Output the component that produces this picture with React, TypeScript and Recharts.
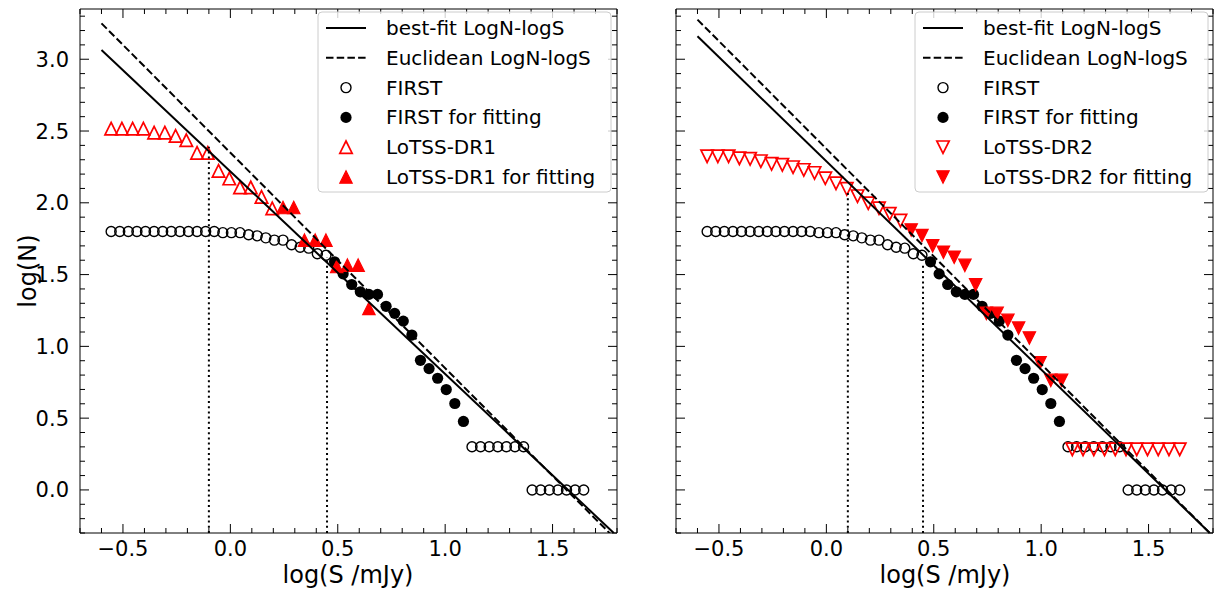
import React from 'react';
import { ComposedChart, Scatter, XAxis, YAxis } from 'recharts';

// ---------- axis ticks ----------
const xTicks = [-0.7, -0.6, -0.5, -0.4, -0.3, -0.2, -0.1, 0, 0.1, 0.2, 0.3, 0.4, 0.5, 0.6, 0.7, 0.8, 0.9, 1, 1.1, 1.2, 1.3, 1.4, 1.5, 1.6, 1.7, 1.8];
const yTicks = [-0.3, -0.2, -0.1, 0, 0.1, 0.2, 0.3, 0.4, 0.5, 0.6, 0.7, 0.8, 0.9, 1, 1.1, 1.2, 1.3, 1.4, 1.5, 1.6, 1.7, 1.8, 1.9, 2, 2.1, 2.2, 2.3, 2.4, 2.5, 2.6, 2.7, 2.8, 2.9, 3, 3.1, 3.2, 3.3];
const xDomain = [-0.7, 1.8];
const yDomain = [-0.3, 3.35];

// ---------- FIRST (same in both panels) ----------
const firstOpenX = [-0.555, -0.515, -0.475, -0.435, -0.395, -0.355, -0.315, -0.275, -0.235, -0.195, -0.155, -0.115, -0.075, -0.035, 0.005, 0.045, 0.085, 0.125, 0.165, 0.205, 0.245, 0.285, 0.325, 0.365, 0.405, 0.445, 1.125, 1.165, 1.205, 1.245, 1.285, 1.325, 1.365, 1.405, 1.445, 1.485, 1.525, 1.565, 1.605, 1.645];
const firstOpenY = [1.8, 1.8, 1.8, 1.8, 1.8, 1.8, 1.8, 1.8, 1.8, 1.8, 1.8, 1.8, 1.8, 1.792, 1.792, 1.792, 1.778, 1.77, 1.756, 1.74, 1.74, 1.708, 1.69, 1.684, 1.645, 1.635, 0.301, 0.301, 0.301, 0.301, 0.301, 0.301, 0.301, 0, 0, 0, 0, 0, 0, 0];
const firstFitX = [0.485, 0.525, 0.565, 0.605, 0.645, 0.685, 0.725, 0.765, 0.805, 0.845, 0.885, 0.925, 0.965, 1.005, 1.045, 1.085];
const firstFitY = [1.589, 1.505, 1.431, 1.38, 1.362, 1.362, 1.279, 1.23, 1.176, 1.079, 0.903, 0.845, 0.778, 0.699, 0.602, 0.477];

// ---------- LoTSS-DR1 (left panel) ----------
const dr1OpenX = [-0.555, -0.505, -0.455, -0.405, -0.355, -0.305, -0.255, -0.205, -0.155, -0.105, -0.055, -0.005, 0.045, 0.095, 0.145, 0.195];
const dr1OpenY = [2.517, 2.517, 2.517, 2.517, 2.489, 2.489, 2.466, 2.436, 2.348, 2.348, 2.222, 2.169, 2.107, 2.107, 2.041, 1.961];
const dr1FitX = [0.245, 0.295, 0.345, 0.395, 0.445, 0.495, 0.545, 0.595, 0.645];
const dr1FitY = [1.967, 1.967, 1.74, 1.74, 1.74, 1.556, 1.566, 1.566, 1.264];

// ---------- LoTSS-DR2 (right panel) ----------
const dr2OpenX = [-0.555, -0.505, -0.455, -0.405, -0.355, -0.305, -0.255, -0.205, -0.155, -0.105, -0.055, -0.005, 0.045, 0.095, 0.145, 0.195, 0.245, 0.295, 0.345, 1.145, 1.195, 1.245, 1.295, 1.345, 1.395, 1.445, 1.495, 1.545, 1.595, 1.645];
const dr2OpenY = [2.324, 2.324, 2.324, 2.31, 2.306, 2.29, 2.271, 2.264, 2.248, 2.229, 2.208, 2.171, 2.136, 2.097, 2.046, 1.997, 1.962, 1.923, 1.876, 0.283, 0.283, 0.283, 0.283, 0.283, 0.283, 0.283, 0.283, 0.283, 0.283, 0.283];
const dr2FitX = [0.395, 0.445, 0.495, 0.545, 0.595, 0.645, 0.695, 0.745, 0.795, 0.845, 0.895, 0.945, 0.995, 1.045, 1.095];
const dr2FitY = [1.811, 1.772, 1.7, 1.656, 1.621, 1.564, 1.429, 1.23, 1.23, 1.181, 1.127, 1.058, 0.886, 0.763, 0.763];

// ---------- model lines ----------
const lineX = [-0.6, 1.785];
const bestFit1Y = [3.065, -0.3];
const eucl1Y = [3.25, -0.33];
const bestFit2Y = [3.16, -0.3];
const eucl2Y = [3.276, -0.3];

// ---------- dotted fitting limits ----------
const dotted1X = [-0.1, 0.45];
const dotted1Top = [2.39, 1.62];
const dotted2X = [0.1, 0.45];
const dotted2Top = [2.07, 1.58];

// ---------- legend labels ----------
const legend1 = ['best-fit LogN-logS', 'Euclidean LogN-logS', 'FIRST', 'FIRST for fitting', 'LoTSS-DR1', 'LoTSS-DR1 for fitting'];
const legend2 = ['best-fit LogN-logS', 'Euclidean LogN-logS', 'FIRST', 'FIRST for fitting', 'LoTSS-DR2', 'LoTSS-DR2 for fitting'];

const FONT = 'DejaVu Sans, Verdana, sans-serif';
const RED = '#ff0000';
const DASH = '7.5 3.2';
const DOT = '2 3.2';

const pts = (xs: number[], ys: number[]) => xs.map((x, i) => ({ x, y: ys[i] }));

const isMajor = (v: number) => Math.abs(v * 2 - Math.round(v * 2)) < 1e-6;
const fmt = (v: number) => {
  const s = (Math.abs(v) < 1e-9 ? 0 : v).toFixed(1);
  return s.startsWith('-') ? '\u2212' + s.slice(1) : s;
};
const MAJ = 9;
const MIN = 5;

const BottomTick = (p: any) => {
  const v = p.payload.value;
  const m = isMajor(v);
  return (
    <g>
      <line x1={p.x} x2={p.x} y1={p.y} y2={p.y - (m ? MAJ : MIN)} stroke="#000" strokeWidth={1} />
      {m && (
        <text x={p.x} y={p.y + 23} textAnchor="middle" fontSize={21} fontFamily={FONT} fill="#000">
          {fmt(v)}
        </text>
      )}
    </g>
  );
};
const TopTick = (p: any) => {
  const v = p.payload.value;
  const m = isMajor(v);
  return <line x1={p.x} x2={p.x} y1={p.y} y2={p.y + (m ? MAJ : MIN)} stroke="#000" strokeWidth={1} />;
};
const makeLeftTick = (labels: boolean) => (p: any) => {
  const v = p.payload.value;
  const m = isMajor(v);
  return (
    <g>
      <line x1={p.x} x2={p.x + (m ? MAJ : MIN)} y1={p.y} y2={p.y} stroke="#000" strokeWidth={1} />
      {labels && m && (
        <text x={p.x - 11} y={p.y + 7.5} textAnchor="end" fontSize={21} fontFamily={FONT} fill="#000">
          {fmt(v)}
        </text>
      )}
    </g>
  );
};
const RightTick = (p: any) => {
  const v = p.payload.value;
  const m = isMajor(v);
  return <line x1={p.x} x2={p.x - (m ? MAJ : MIN)} y1={p.y} y2={p.y} stroke="#000" strokeWidth={1} />;
};

// ---------- marker shapes ----------
const Nothing = () => <g />;
const OpenCircle = (p: any) => <circle cx={p.cx} cy={p.cy} r={5} fill="none" stroke="#000" strokeWidth={1.4} />;
const FilledCircle = (p: any) => <circle cx={p.cx} cy={p.cy} r={5.6} fill="#000" />;
const TRI = 6.2;
const triPath = (cx: number, cy: number, up: boolean) =>
  up
    ? `M${cx},${cy - TRI} L${cx + TRI},${cy + TRI} L${cx - TRI},${cy + TRI} Z`
    : `M${cx},${cy + TRI} L${cx + TRI},${cy - TRI} L${cx - TRI},${cy - TRI} Z`;
const OpenTriUp = (p: any) => <path d={triPath(p.cx, p.cy, true)} fill="none" stroke={RED} strokeWidth={1.7} />;
const FilledTriUp = (p: any) => <path d={triPath(p.cx, p.cy, true)} fill={RED} stroke={RED} strokeWidth={1.2} />;
const OpenTriDown = (p: any) => <path d={triPath(p.cx, p.cy, false)} fill="none" stroke={RED} strokeWidth={1.7} />;
const FilledTriDown = (p: any) => <path d={triPath(p.cx, p.cy, false)} fill={RED} stroke={RED} strokeWidth={1.2} />;

type PanelProps = {
  left: number;
  width: number;
  yAxisWidth: number;
  rightWidth: number;
  yLabels: boolean;
  lotssOpen: { x: number; y: number }[];
  lotssFit: { x: number; y: number }[];
  up: boolean;
  best: { x: number; y: number }[];
  eucl: { x: number; y: number }[];
  dottedX: number[];
  dottedTop: number[];
};

const Panel = (props: PanelProps) => {
  const common = { xAxisId: 'b', yAxisId: 'l', isAnimationActive: false } as any;
  return (
    <div style={{ position: 'absolute', left: props.left, top: 0 }}>
      <ComposedChart width={props.width} height={593} margin={{ top: 0, right: 0, bottom: 0, left: 0 }}>
        <XAxis
          xAxisId="b"
          dataKey="x"
          type="number"
          orientation="bottom"
          domain={xDomain}
          ticks={xTicks}
          interval={0}
          allowDataOverflow
          height={60}
          tickSize={0}
          tickMargin={0}
          tickLine={false}
          axisLine={{ stroke: '#000', strokeWidth: 1 }}
          tick={BottomTick}
        />
        <XAxis
          xAxisId="t"
          dataKey="x"
          type="number"
          orientation="top"
          domain={xDomain}
          ticks={xTicks}
          interval={0}
          allowDataOverflow
          height={9}
          tickSize={0}
          tickMargin={0}
          tickLine={false}
          axisLine={{ stroke: '#000', strokeWidth: 1 }}
          tick={TopTick}
        />
        <YAxis
          yAxisId="l"
          dataKey="y"
          type="number"
          orientation="left"
          domain={yDomain}
          ticks={yTicks}
          interval={0}
          allowDataOverflow
          width={props.yAxisWidth}
          tickSize={0}
          tickMargin={0}
          tickLine={false}
          axisLine={{ stroke: '#000', strokeWidth: 1 }}
          tick={makeLeftTick(props.yLabels)}
        />
        <YAxis
          yAxisId="r"
          dataKey="y"
          type="number"
          orientation="right"
          domain={yDomain}
          ticks={yTicks}
          interval={0}
          allowDataOverflow
          width={props.rightWidth}
          tickSize={0}
          tickMargin={0}
          tickLine={false}
          axisLine={{ stroke: '#000', strokeWidth: 1 }}
          tick={RightTick}
        />
        <Scatter xAxisId="t" yAxisId="r" data={[{ x: 0, y: 0 }]} shape={Nothing} isAnimationActive={false} />
        <Scatter {...common} data={pts(firstOpenX, firstOpenY)} shape={OpenCircle} />
        <Scatter {...common} data={pts(firstFitX, firstFitY)} shape={FilledCircle} />
        <Scatter {...common} data={props.lotssOpen} shape={props.up ? OpenTriUp : OpenTriDown} />
        <Scatter {...common} data={props.lotssFit} shape={props.up ? FilledTriUp : FilledTriDown} />
        <Scatter {...common} data={props.best} shape={Nothing} line={{ stroke: '#000', strokeWidth: 2 }} />
        <Scatter {...common} data={props.eucl} shape={Nothing} line={{ stroke: '#000', strokeWidth: 2, strokeDasharray: DASH }} />
        {props.dottedX.map((dx, i) => (
          <Scatter
            key={'d' + i}
            {...common}
            data={[
              { x: dx, y: yDomain[0] },
              { x: dx, y: props.dottedTop[i] },
            ]}
            shape={Nothing}
            line={{ stroke: '#000', strokeWidth: 2, strokeDasharray: DOT }}
          />
        ))}
      </ComposedChart>
    </div>
  );
};

const LegendBox = ({ x, labels, up }: { x: number; labels: string[]; up: boolean }) => {
  const top = 12;
  const w = 293;
  const h = 180;
  const rowY = (i: number) => top + 16 + i * 29.8;
  const hx = x + 8;
  const mx = x + 28;
  const tx = x + 68;
  return (
    <g>
      <rect x={x} y={top} width={w} height={h} rx={4} ry={4} fill="#fff" fillOpacity={0.8} stroke="#cccccc" strokeWidth={1} />
      <line x1={hx} x2={hx + 40} y1={rowY(0)} y2={rowY(0)} stroke="#000" strokeWidth={2} />
      <line x1={hx} x2={hx + 40} y1={rowY(1)} y2={rowY(1)} stroke="#000" strokeWidth={2} strokeDasharray={DASH} />
      <OpenCircle cx={mx} cy={rowY(2)} />
      <FilledCircle cx={mx} cy={rowY(3)} />
      {up ? <OpenTriUp cx={mx} cy={rowY(4)} /> : <OpenTriDown cx={mx} cy={rowY(4)} />}
      {up ? <FilledTriUp cx={mx} cy={rowY(5)} /> : <FilledTriDown cx={mx} cy={rowY(5)} />}
      {labels.map((l, i) => (
        <text key={l} x={tx} y={rowY(i) + 7} fontSize={20} fontFamily={FONT} fill="#000">
          {l}
        </text>
      ))}
    </g>
  );
};

export default function App() {
  return (
    <div style={{ position: 'absolute', left: 0, top: 0, width: 1221, height: 593, background: '#fff' }}>
      <Panel
        left={0}
        width={620}
        yAxisWidth={80}
        rightWidth={3}
        yLabels={true}
        lotssOpen={pts(dr1OpenX, dr1OpenY)}
        lotssFit={pts(dr1FitX, dr1FitY)}
        up={true}
        best={pts(lineX, bestFit1Y)}
        eucl={pts(lineX, eucl1Y)}
        dottedX={dotted1X}
        dottedTop={dotted1Top}
      />
      <Panel
        left={620}
        width={601}
        yAxisWidth={56}
        rightWidth={8}
        yLabels={false}
        lotssOpen={pts(dr2OpenX, dr2OpenY)}
        lotssFit={pts(dr2FitX, dr2FitY)}
        up={false}
        best={pts(lineX, bestFit2Y)}
        eucl={pts(lineX, eucl2Y)}
        dottedX={dotted2X}
        dottedTop={dotted2Top}
      />
      <svg width={1221} height={593} style={{ position: 'absolute', left: 0, top: 0, pointerEvents: 'none' }}>
        <LegendBox x={318} labels={legend1} up={true} />
        <LegendBox x={915} labels={legend2} up={false} />
        <text x={348} y={583} textAnchor="middle" fontSize={24} fontFamily={FONT} fill="#000">
          log(S /mJy)
        </text>
        <text x={945} y={583} textAnchor="middle" fontSize={24} fontFamily={FONT} fill="#000">
          log(S /mJy)
        </text>
        <text x={36} y={271} transform="rotate(-90 36 271)" textAnchor="middle" fontSize={24} fontFamily={FONT} fill="#000">
          log(N)
        </text>
      </svg>
    </div>
  );
}
